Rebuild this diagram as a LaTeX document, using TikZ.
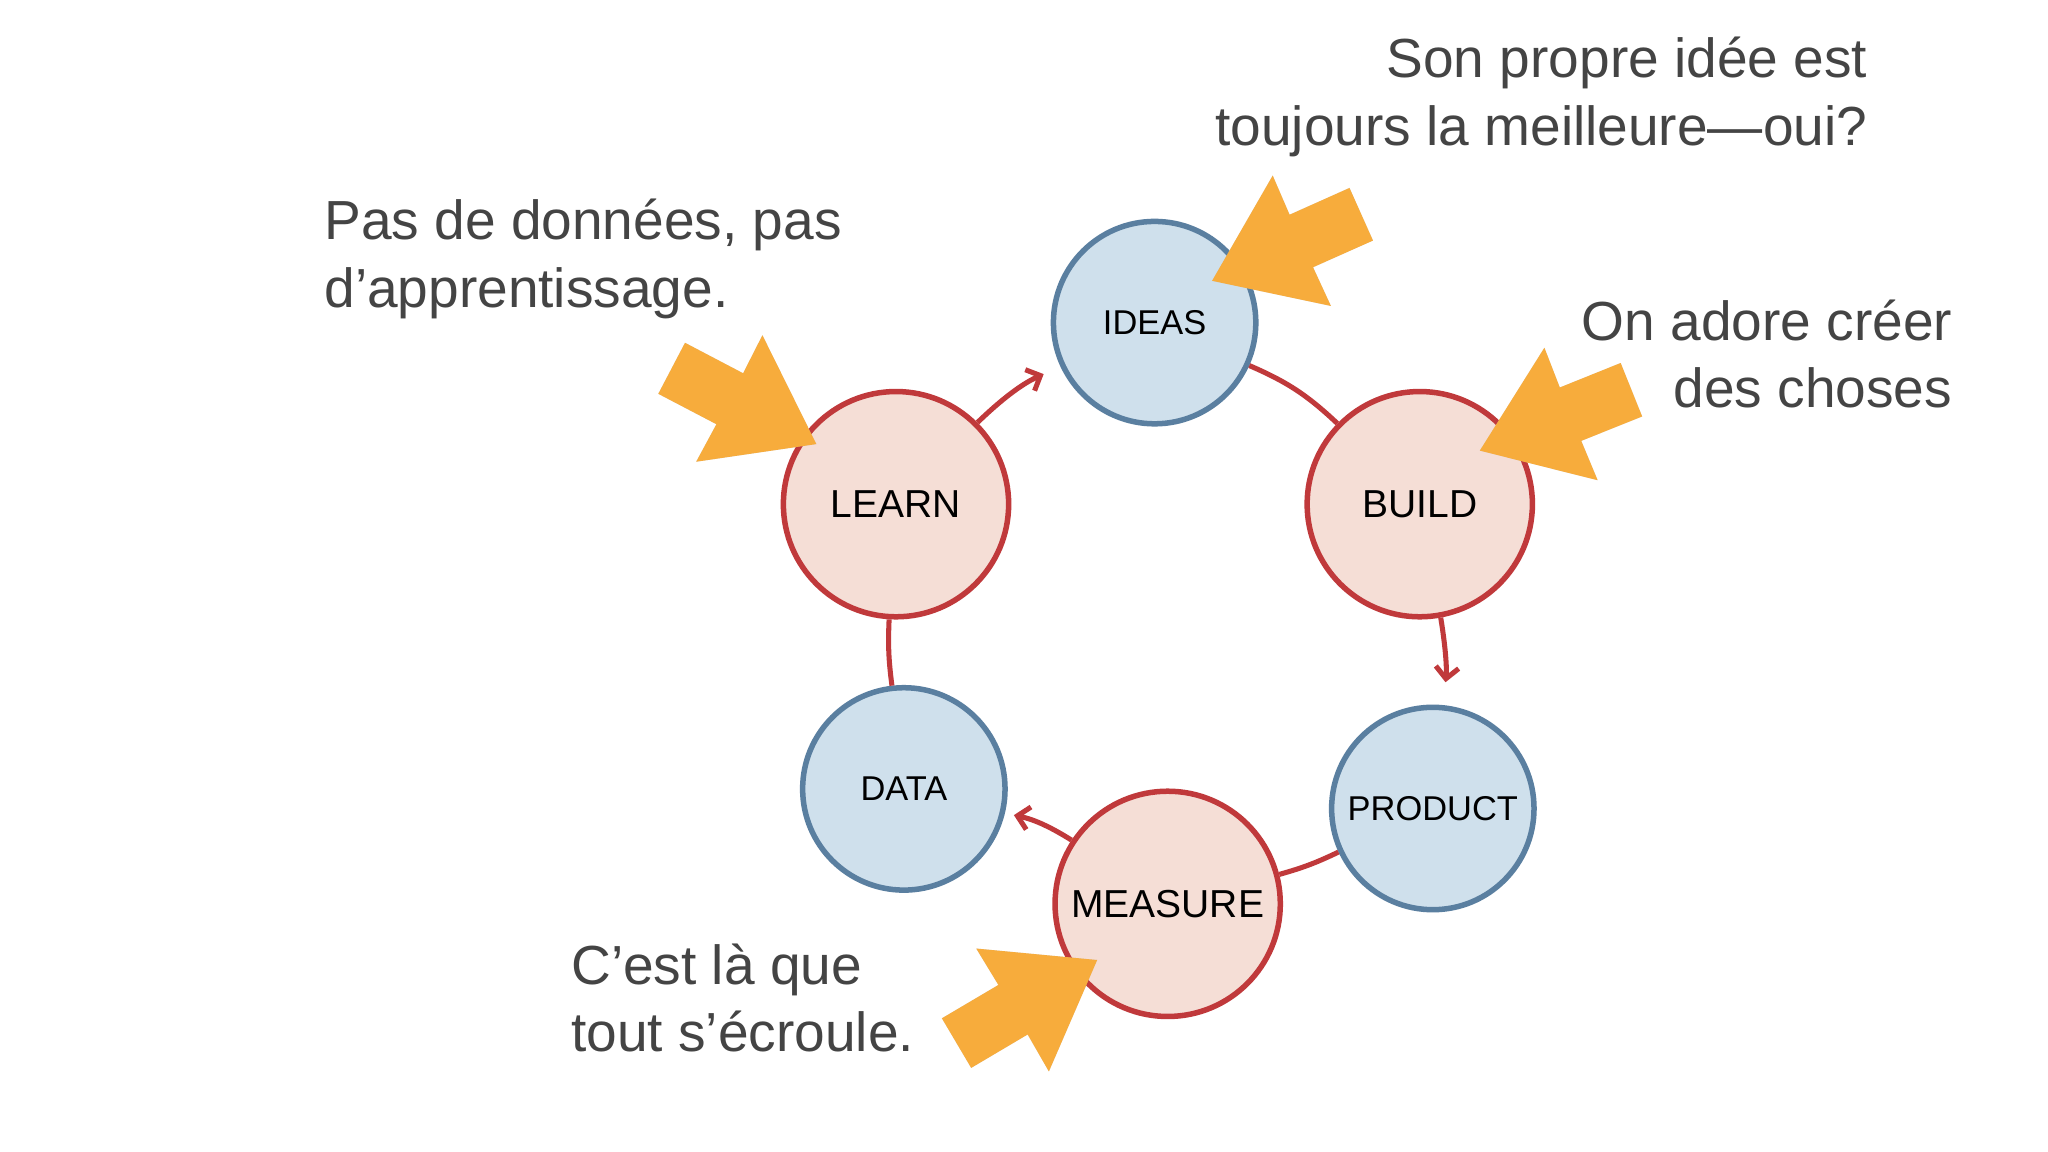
\documentclass[tikz,border=0pt]{standalone}
\usepackage{fontspec}
\setmainfont{Liberation Sans}
\usetikzlibrary{calc,arrows.meta}
\definecolor{bfill}{HTML}{CFE0EC}
\definecolor{bdraw}{HTML}{5A7FA0}
\definecolor{rfill}{HTML}{F5DED6}
\definecolor{rdraw}{HTML}{C0393B}
\definecolor{orng}{HTML}{F7AC3C}
\definecolor{txt}{HTML}{444444}
\tikzset{
  bluec/.style={circle,draw=bdraw,fill=bfill,line width=2.4pt,minimum size=3.1cm,inner sep=0pt,font=\fontsize{15}{15}\selectfont,text=black},
  redc/.style={circle,draw=rdraw,fill=rfill,line width=2.4pt,minimum size=3.45cm,inner sep=0pt,font=\fontsize{17}{17}\selectfont,text=black},
  conn/.style={draw=rdraw,line width=2.2pt},
  arr/.style={conn,-{Straight Barb[length=5pt,width=10pt]}},
  note/.style={text=txt,font=\fontsize{24}{29.5}\selectfont,inner sep=0pt}
}
\newcommand{\bigarrow}[3]{%
  \coordinate (#1) at #2; \coordinate (#1t) at #3;
  \fill[black!25,opacity=0.5,xshift=3pt,yshift=-3pt] (#1) -- ($(#1)!1.86cm!36:(#1t)$) -- ($(#1)!1.56cm!16.4:(#1t)$) -- ($(#1)!2.54cm!10:(#1t)$) -- ($(#1)!2.54cm!-10:(#1t)$) -- ($(#1)!1.56cm!-16.4:(#1t)$) -- ($(#1)!1.86cm!-36:(#1t)$) -- cycle;
  \fill[orng] (#1) -- ($(#1)!1.86cm!36:(#1t)$) -- ($(#1)!1.56cm!16.4:(#1t)$) -- ($(#1)!2.54cm!10:(#1t)$) -- ($(#1)!2.54cm!-10:(#1t)$) -- ($(#1)!1.56cm!-16.4:(#1t)$) -- ($(#1)!1.86cm!-36:(#1t)$) -- cycle;}
\begin{document}
\begin{tikzpicture}[x=0.02cm,y=-0.02cm]
\useasboundingbox[fill=white] (0,0) rectangle (1568,882);
\node[bluec] (ideas) at (884,247) {IDEAS};
\node[redc] (build) at (1087,386) {BUILD};
\node[bluec] (product) at (1097,619) {PRODUCT};
\node[redc] (measure) at (894,692) {MEASURE};
\node[bluec] (data) at (692,604) {DATA};
\node[redc] (learn) at (686,386) {LEARN};
\begin{scope}[on background layer/.style={}]
\end{scope}
\draw[conn] (ideas) to[bend left=10] (build);
\draw[arr,shorten >=10pt] (build) to[bend left=8] (product);
\draw[conn] (product) to[bend left=5] (measure);
\draw[arr,shorten >=4pt] (measure) to[bend right=10] (data);
\draw[conn] (data) to[bend left=5] (learn);
\draw[arr,shorten >=8pt] (learn) to[bend left=10] (ideas);
\bigarrow{a1}{(928,215)}{(1040,165)}
\bigarrow{a2}{(625,340)}{(520,285)}
\bigarrow{a3}{(1133,345)}{(1245,300)}
\bigarrow{a4}{(840,735)}{(730,800)}
\node[note,anchor=north east,align=right] (t1) at (1430,28) {Son propre idée est\\toujours la meilleure—oui?};
\node[note,anchor=north west,align=left] (t2) at (248,152) {Pas de données, pas\\d’apprentissage.};
\node[note,anchor=north east,align=right] (t3) at (1495,229) {On adore créer\\des choses};
\node[note,anchor=north west,align=left] (t4) at (437,722) {C'est là que\\tout s'écroule.};
\end{tikzpicture}
\end{document}
